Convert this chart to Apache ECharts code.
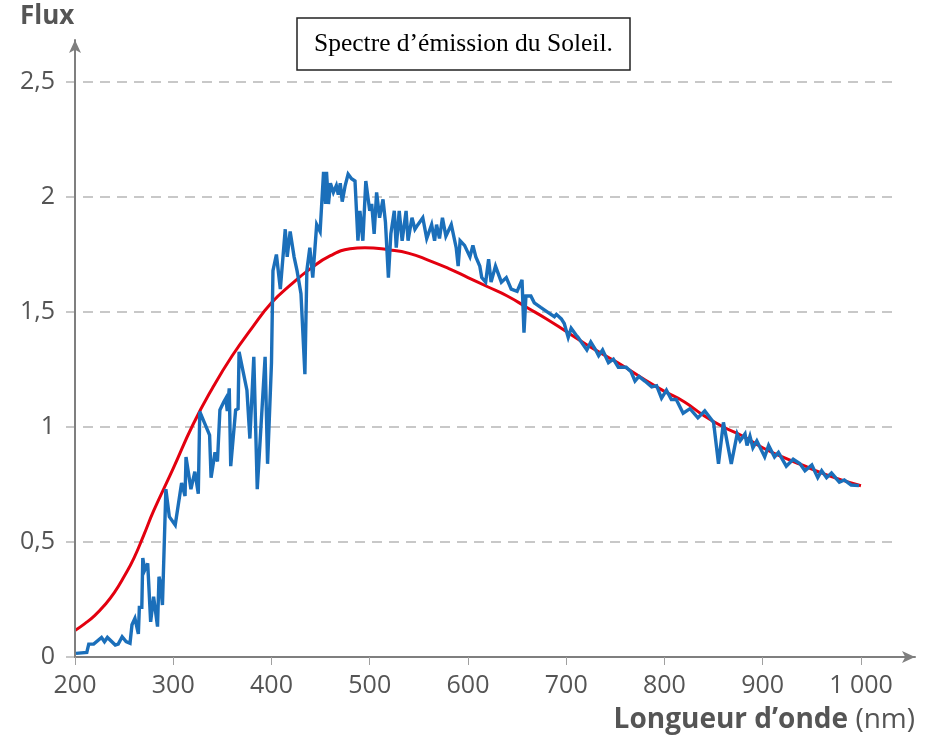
<!DOCTYPE html>
<html>
<head>
<meta charset="utf-8">
<script src="https://cdn.jsdelivr.net/npm/echarts@6/dist/echarts.min.js"></script>
<style>html,body{margin:0;padding:0;background:#fff;}#c{width:935px;height:742px;}</style>
</head>
<body>
<div id="c"></div>
<script>
// Measured spectrum (blue)
const spectrumWavelength = [201,212,214,219,227,230,233,241,244,248,249.5,252,256,258,261,264.5,265.5,268,269,271,274,277,280,284,285.5,287,289,292.5,296,302,308.5,312,313,318,322,325.5,327,337,338.5,342.5,345,347.5,351.5,353.5,355,357,358.5,363.5,366,367,375,378,382,385.5,393.5,396,400,401.5,405,409,414,416,419,423,426,430,434,436,439,442,446,449.5,453,455,456,458,460,463,466,468,470,472,475,478,481.5,485,488,490,493,496,500,502,504.5,507,510,513.5,516,519,521.5,525,527,530,533,537,539,543,546,549,554,558,563,566,568,571,574,577.5,583,588,590,592,596.5,602,605,608,612,614,618,621,623.5,628,634,639,644,650,655,657,659,664,667.5,674,681,688,690,695,698,702,705,710,712,721,725,730,733,737,743,748,753,761,766,770,774,780,787,792,797,802,807,812,819,826,834,841,850,855,860,868,874,877,882,884,887,890,894,902,906,912,916,924,931,938,943,950,956,960,965,970,978,983,990,998];
const spectrumFlux = [0.016,0.02,0.056,0.056,0.085,0.066,0.085,0.052,0.056,0.088,0.095,0.067,0.06,0.14,0.168,0.10,0.216,0.216,0.43,0.378,0.407,0.153,0.262,0.132,0.349,0.32,0.226,0.73,0.61,0.574,0.757,0.70,0.87,0.73,0.806,0.71,1.067,0.965,0.78,0.89,0.85,1.074,1.11,1.125,1.07,1.168,0.83,1.074,1.08,1.327,1.16,0.95,1.305,0.73,1.305,0.84,1.28,1.68,1.75,1.60,1.86,1.74,1.85,1.74,1.68,1.58,1.23,1.68,1.78,1.65,1.88,1.85,2.11,1.97,2.11,1.97,2.06,2.02,2.05,2.01,2.06,1.98,2.05,2.10,2.08,2.07,1.81,1.94,1.81,2.07,1.94,1.97,1.84,2.02,1.91,1.99,1.89,1.65,1.84,1.94,1.78,1.94,1.81,1.94,1.81,1.91,1.86,1.88,1.91,1.82,1.88,1.81,1.88,1.82,1.91,1.83,1.88,1.78,1.70,1.81,1.79,1.74,1.79,1.74,1.70,1.65,1.63,1.73,1.63,1.70,1.63,1.65,1.60,1.59,1.64,1.41,1.57,1.57,1.54,1.52,1.50,1.48,1.49,1.47,1.45,1.39,1.43,1.40,1.39,1.335,1.37,1.335,1.31,1.335,1.28,1.295,1.26,1.26,1.24,1.20,1.22,1.20,1.175,1.18,1.125,1.16,1.12,1.12,1.06,1.08,1.04,1.07,1.02,0.84,1.02,0.84,0.97,0.94,0.97,0.92,0.96,0.91,0.94,0.87,0.92,0.87,0.89,0.83,0.86,0.84,0.81,0.835,0.78,0.81,0.78,0.80,0.76,0.77,0.748,0.745];

// Black-body curve (red)
const bodyWavelength = [200,210,220,230,240,250,260,270,280,300,320,340,360,380,400,420,440,460,480,495,520,540,560,580,600,620,640,660,680,700,720,740,760,780,800,820,840,860,880,900,920,940,960,980,1000];
const bodyFlux = [0.115,0.145,0.18,0.225,0.28,0.35,0.43,0.53,0.635,0.82,1.01,1.17,1.31,1.43,1.54,1.62,1.69,1.745,1.775,1.78,1.77,1.755,1.725,1.69,1.65,1.61,1.57,1.52,1.47,1.415,1.36,1.31,1.26,1.205,1.155,1.11,1.05,1.00,0.96,0.91,0.87,0.835,0.80,0.77,0.745];

const xTicks = [200,300,400,500,600,700,800,900,1000];
const xTickLabels = ['200','300','400','500','600','700','800','900','1 000'];
const yTicks = [0,0.5,1,1.5,2,2.5];
const yTickLabels = ['0','0,5','1','1,5','2','2,5'];

const chart = echarts.init(document.getElementById('c'), null, {renderer: 'canvas'});
const labelFont = '"Open Sans", "Noto Sans", sans-serif';
const axisGray = '#7f7f7f';

chart.setOption({
  animation: false,
  backgroundColor: '#fff',
  title: {
    text: 'Spectre d\u2019émission du Soleil.',
    left: 297, top: 18,
    padding: [13, 17, 13, 17],
    borderColor: '#222', borderWidth: 1.5,
    textStyle: {fontFamily: '"Liberation Serif", "Times New Roman", serif', fontSize: 25.5, fontWeight: 'normal', color: '#000'}
  },
  grid: [
    {left: 75, right: 20, top: 40, bottom: 85},
    {left: 66, right: 38, top: 82, bottom: 85}
  ],
  xAxis: [
    {
      type: 'value', gridIndex: 0, min: 200, max: 1055, z: 3,
      axisLine: {show: true, lineStyle: {color: axisGray, width: 2}, symbol: ['none', 'arrow'], symbolSize: [9, 13]},
      axisTick: {show: true, customValues: xTicks, length: 8, lineStyle: {color: '#a0a0a0', width: 1}},
      axisLabel: {customValues: xTicks, margin: 16, color: '#555', fontFamily: labelFont, fontSize: 25,
        formatter: v => { const i = xTicks.indexOf(v); return i >= 0 ? xTickLabels[i] : ''; }},
      splitLine: {show: false}
    },
    {type: 'value', gridIndex: 1, min: 0, max: 1, show: false}
  ],
  yAxis: [
    {
      type: 'value', gridIndex: 0, min: 0, max: 2.683, z: 3,
      axisLine: {show: true, lineStyle: {color: axisGray, width: 2}, symbol: ['none', 'arrow'], symbolSize: [9, 13]},
      axisTick: {show: false},
      axisLabel: {customValues: yTicks, margin: 20, color: '#555', fontFamily: labelFont, fontSize: 25,
        formatter: v => { const i = yTicks.findIndex(t => Math.abs(t - v) < 1e-6); return i >= 0 ? yTickLabels[i] : ''; }},
      splitLine: {show: false}
    },
    {
      type: 'value', gridIndex: 1, min: 0, max: 2.5, interval: 0.5, z: 0,
      axisLine: {show: false}, axisTick: {show: false}, axisLabel: {show: false},
      splitLine: {show: true, lineStyle: {color: '#c8c8c8', width: 2, type: [10, 7]}}
    }
  ],
  graphic: [
    {type: 'text', left: 20, top: 4, style: {text: 'Flux', fill: '#555', font: 'bold 26px "Open Sans", "Noto Sans", sans-serif'}},
    {type: 'text', right: 20, top: 706, style: {
      text: '{b|Longueur d\u2019onde}{r|\u00a0(nm)}',
      rich: {
        b: {fontFamily: labelFont, fontWeight: 'bold', fontSize: 28, fill: '#555', color: '#555'},
        r: {fontFamily: labelFont, fontWeight: 'normal', fontSize: 28, fill: '#555', color: '#555'}
      }
    }}
  ],
  series: [
    {
      type: 'line', xAxisIndex: 0, yAxisIndex: 0, smooth: true, showSymbol: false, z: 2,
      data: bodyWavelength.map((w, i) => [w, bodyFlux[i]]),
      lineStyle: {color: '#e3000f', width: 3}
    },
    {
      type: 'line', xAxisIndex: 0, yAxisIndex: 0, showSymbol: false, z: 3,
      data: spectrumWavelength.map((w, i) => [w, spectrumFlux[i]]),
      lineStyle: {color: '#1b6fba', width: 3.4, join: 'miter', miterLimit: 4}
    }
  ]
});
</script>
</body>
</html>
